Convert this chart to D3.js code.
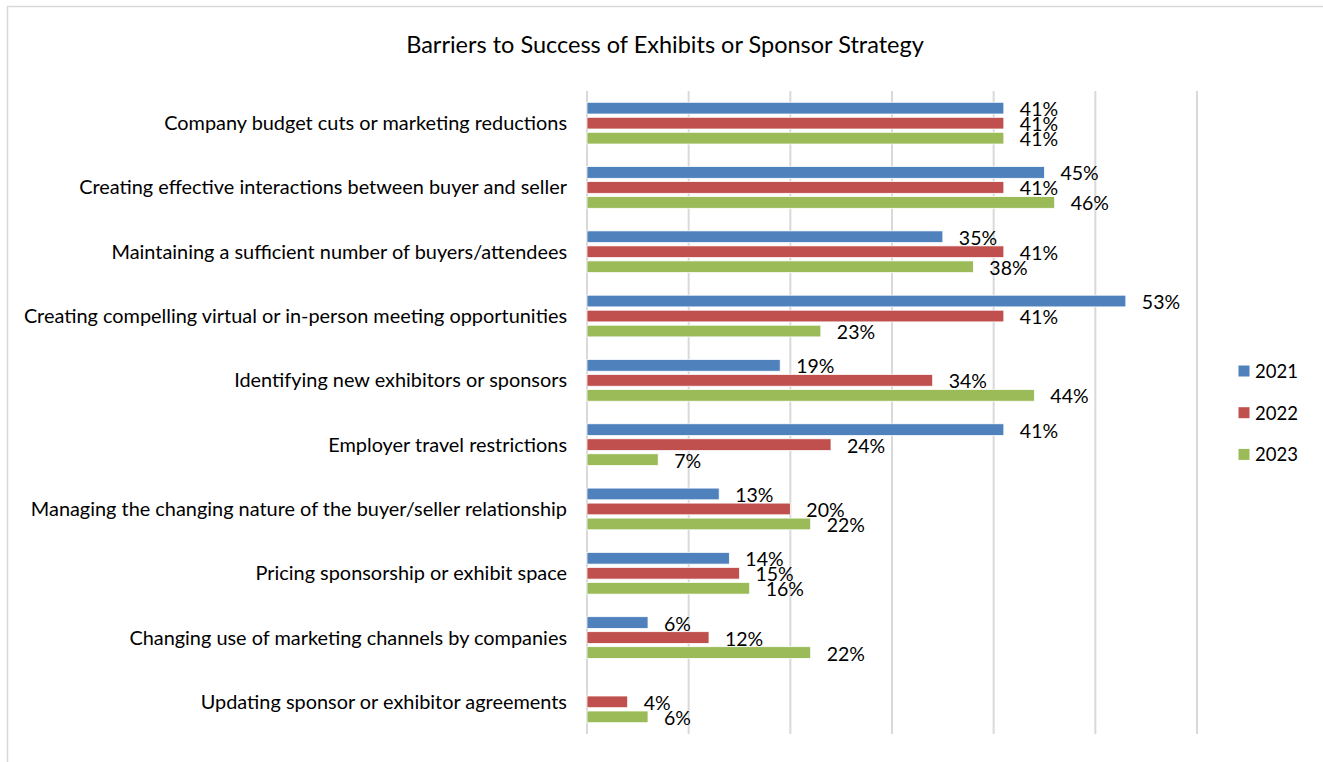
<!DOCTYPE html>
<html>
<head>
<meta charset="utf-8">
<script src="https://cdn.jsdelivr.net/npm/d3@7"></script>
<style>
  html, body { margin: 0; padding: 0; background: #fff; }
  svg { display: block; }
  text { font-family: Lato, "Open Sans", sans-serif; fill: #000; }
</style>
</head>
<body>
<svg id="chart" width="1323" height="762"></svg>
<script>
const title = "Barriers to Success of Exhibits or Sponsor Strategy";
const categories = [
  "Company budget cuts or marketing reductions",
  "Creating effective interactions between buyer and seller",
  "Maintaining a sufficient number of buyers/attendees",
  "Creating compelling virtual or in-person meeting opportunities",
  "Identifying new exhibitors or sponsors",
  "Employer travel restrictions",
  "Managing the changing nature of the buyer/seller relationship",
  "Pricing sponsorship or exhibit space",
  "Changing use of marketing channels by companies",
  "Updating sponsor or exhibitor agreements"
];
const seriesNames = ["2021", "2022", "2023"];
const values2021 = [41, 45, 35, 53, 19, 41, 13, 14, 6, null];
const values2022 = [41, 41, 41, 41, 34, 24, 20, 15, 12, 4];
const values2023 = [41, 46, 38, 23, 44, 7, 22, 16, 22, 6];
const colors = ["#4F81BD", "#C0504D", "#9BBB59"];
const gridTicks = [0, 10, 20, 30, 40, 50, 60];

const seriesValues = [values2021, values2022, values2023];

const svg = d3.select("#chart");

// outer frame
svg.append("rect")
  .attr("x", 7.5).attr("y", 6.5)
  .attr("width", 1400).attr("height", 900)
  .attr("fill", "none").attr("stroke", "#d9d9d9").attr("stroke-width", 1.5);

svg.append("text")
  .attr("x", 665).attr("y", 44)
  .attr("text-anchor", "middle").attr("dominant-baseline", "central")
  .style("font-size", "23.5px")
  .text(title);

const x = d3.scaleLinear().domain([0, 60]).range([587, 1197]);
const y = d3.scaleBand().domain(categories).range([91, 734]).padding(0);
const inner = d3.scaleBand().domain(seriesNames).range([0, 45])
  .paddingInner(0.22).paddingOuter(0.11);

// gridlines
svg.append("g").selectAll("line").data(gridTicks).join("line")
  .attr("x1", d => x(d)).attr("x2", d => x(d))
  .attr("y1", 91).attr("y2", 734)
  .attr("stroke", "#d9d9d9").attr("stroke-width", 2);

// category labels
svg.append("g").selectAll("text").data(categories).join("text")
  .attr("x", 567)
  .attr("y", d => y(d) + y.bandwidth() / 2 - 1)
  .attr("text-anchor", "end").attr("dominant-baseline", "central")
  .style("font-size", "19.9px")
  .text(d => d);

// bars
seriesNames.forEach((s, si) => {
  const data = categories.map((c, i) => ({ c, v: seriesValues[si][i] }))
    .filter(d => d.v !== null);
  const g = svg.append("g");
  g.selectAll("rect").data(data).join("rect")
    .attr("x", x(0))
    .attr("y", d => y(d.c) + y.bandwidth() / 2 - 22.5 + inner(s))
    .attr("width", d => x(d.v) - x(0))
    .attr("height", inner.bandwidth())
    .attr("fill", colors[si])
    .attr("stroke", "#fff").attr("stroke-width", 0.75);
  g.selectAll("text").data(data).join("text")
    .attr("x", d => x(d.v) + 16)
    .attr("y", d => y(d.c) + y.bandwidth() / 2 - 22.5 + inner(s) + inner.bandwidth() / 2 + 0.5)
    .attr("dominant-baseline", "central")
    .style("font-size", "19.5px")
    .text(d => d.v + "%");
});

// legend
const legend = svg.append("g");
seriesNames.forEach((s, i) => {
  const cy = 371 + i * 41.7;
  legend.append("rect")
    .attr("x", 1238.5).attr("y", cy - 5.5)
    .attr("width", 11).attr("height", 11)
    .attr("fill", colors[i]);
  legend.append("text")
    .attr("x", 1255).attr("y", cy)
    .attr("dominant-baseline", "central")
    .style("font-size", "18.5px")
    .text(s);
});
</script>
</body>
</html>
